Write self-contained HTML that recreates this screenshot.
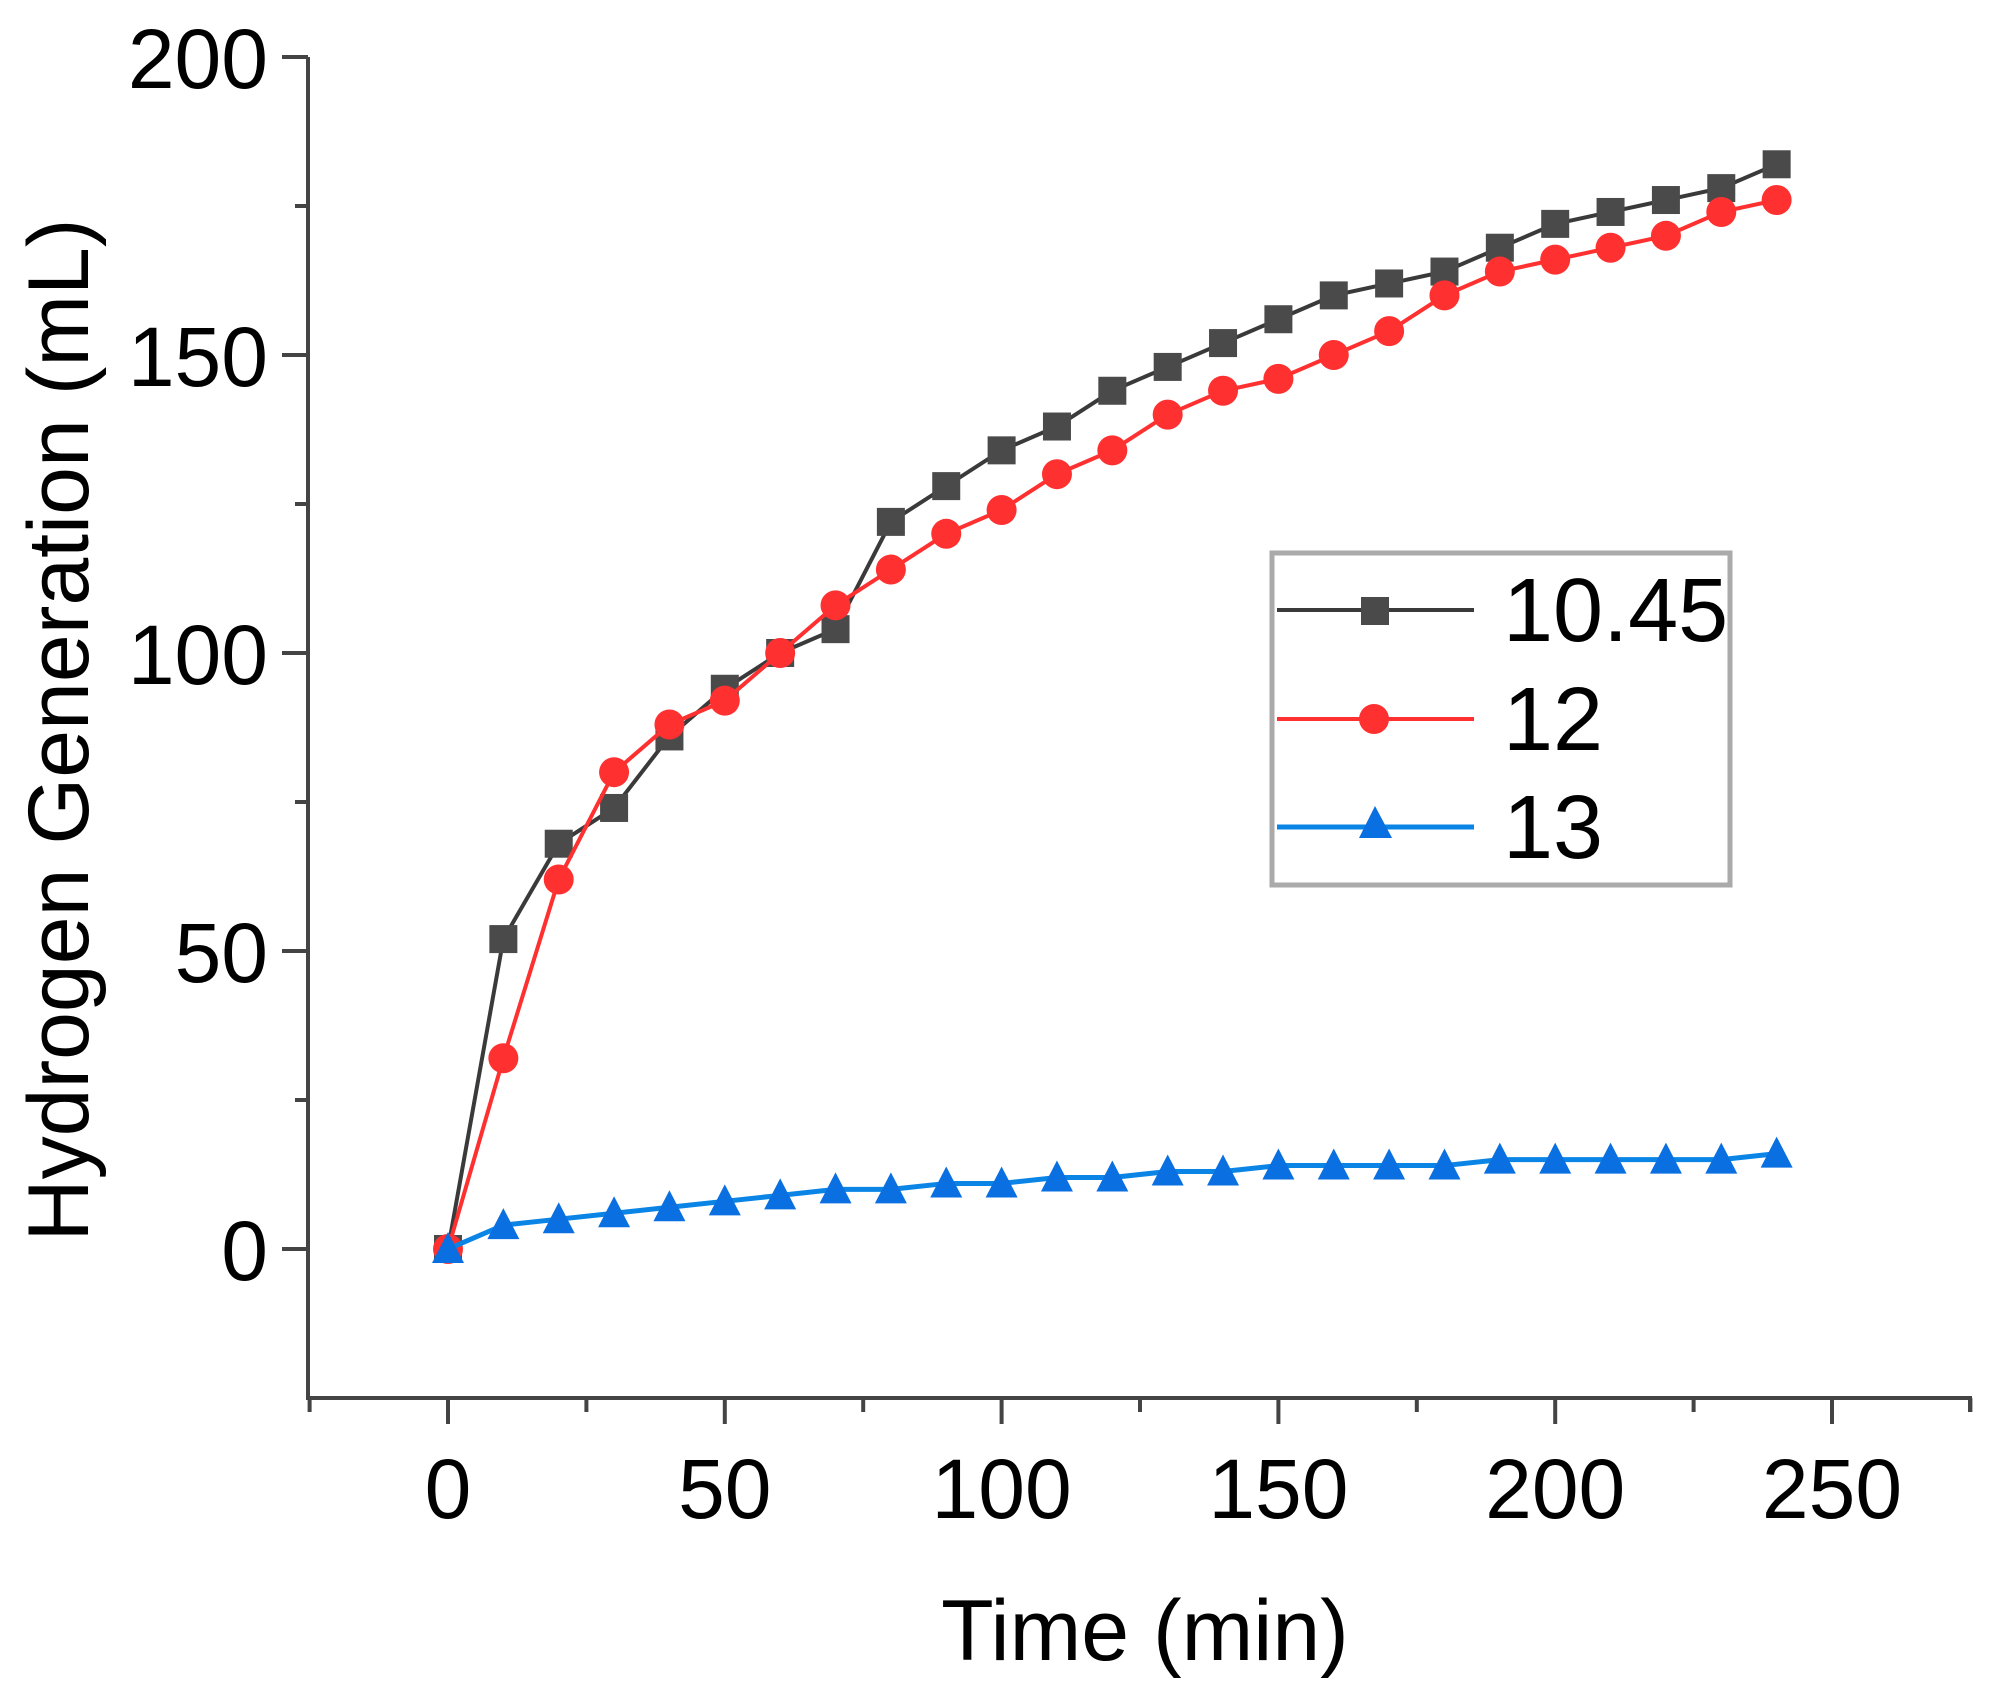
<!DOCTYPE html>
<html><head><meta charset="utf-8"><style>
html,body{margin:0;padding:0;background:#fff;}
svg{display:block;}
text{font-family:"Liberation Sans",Arial,sans-serif;fill:#000;}
</style></head><body>
<svg id="s" width="1996" height="1685" viewBox="0 0 1996 1685" xmlns="http://www.w3.org/2000/svg">
<g stroke="#444" stroke-width="4" fill="none">
<line x1="308" y1="57" x2="308" y2="1400"/>
<line x1="306" y1="1398" x2="1972" y2="1398"/>
<line x1="282" y1="57" x2="308" y2="57"/>
</g>
<g id="ticks" stroke="#444" stroke-width="4"></g>
<g id="labels" font-size="84"></g>
<text x="0" y="0" font-size="86" text-anchor="middle" transform="translate(88,730) rotate(-90)">Hydrogen Generation (mL)</text>
<text x="1145" y="1660" font-size="86" text-anchor="middle">Time (min)</text>
<g id="data"></g>
<rect x="1272" y="553" width="458" height="332" fill="#fff" stroke="#aaa" stroke-width="5"/>
<line x1="1277" y1="610" x2="1474" y2="610" stroke="#3a3a3a" stroke-width="4"/>
<rect x="1361" y="597" width="28" height="28" fill="#4a4a4a"/>
<line x1="1277" y1="719" x2="1474" y2="719" stroke="#ff3030" stroke-width="4"/>
<circle cx="1374" cy="719" r="15" fill="#ff3030"/>
<line x1="1277" y1="827" x2="1474" y2="827" stroke="#0a85e6" stroke-width="5"/>
<polygon points="1375,806 1359,838 1392,838" fill="#0a6fe0"/>
<text x="1503" y="641" font-size="90">10.45</text>
<text x="1503" y="750" font-size="90">12</text>
<text x="1503" y="858" font-size="90">13</text>
</svg>
<script>
var NS="http://www.w3.org/2000/svg";
function X(t){return 448+t*5.536;}
function Y(v){return 1249-v*5.96;}
function el(tag,a,p){var e=document.createElementNS(NS,tag);for(var k in a)e.setAttribute(k,a[k]);p.appendChild(e);return e;}
var tk=document.getElementById('ticks'),lb=document.getElementById('labels');
for(var v=0;v<=200;v+=50){el('line',{x1:282,y1:Y(v),x2:308,y2:Y(v)},tk);var t=el('text',{x:268,y:Y(v)+31,'text-anchor':'end'},lb);t.textContent=v;}
for(var v=25;v<=175;v+=50){el('line',{x1:295,y1:Y(v),x2:308,y2:Y(v)},tk);}
for(var t0=0;t0<=250;t0+=50){el('line',{x1:X(t0),y1:1398,x2:X(t0),y2:1424},tk);var t=el('text',{x:X(t0),y:1518,'text-anchor':'middle'},lb);t.textContent=t0;}
for(var t0=-25;t0<=275;t0+=50){if(X(t0)>308&&X(t0)<1972)el('line',{x1:X(t0),y1:1398,x2:X(t0),y2:1412},tk);}
el('line',{x1:1970,y1:1398,x2:1970,y2:1412},tk);
var black=[0,52,68,74,86,94,100,104,122,128,134,138,144,148,152,156,160,162,164,168,172,174,176,178,182];
var red=[0,32,62,80,88,92,100,108,114,120,124,130,134,140,144,146,150,154,160,164,166,168,170,174,176];
var blue=[0,4,5,6,7,8,9,10,10,11,11,12,12,13,13,14,14,14,14,15,15,15,15,15,16];
var d=document.getElementById('data');
function series(arr,col,w,mk,mcol){
  var pts=arr.map(function(v,i){return X(i*10)+','+Y(v);}).join(' ');
  el('polyline',{points:pts,fill:'none',stroke:col,'stroke-width':w},d);
  arr.forEach(function(v,i){var x=X(i*10),y=Y(v);
    if(mk=='s')el('rect',{x:x-14,y:y-14,width:28,height:28,fill:mcol},d);
    else if(mk=='c')el('circle',{cx:x,cy:y,r:15,fill:mcol},d);
    else el('polygon',{points:(x)+','+(y-17)+' '+(x-16)+','+(y+14)+' '+(x+16)+','+(y+14),fill:mcol},d);});
}
series(black,'#3a3a3a',4,'s','#4a4a4a');
series(red,'#ff3030',4,'c','#ff3030');
series(blue,'#0a85e6',5,'t','#0a6fe0');
</script>
</body></html>
